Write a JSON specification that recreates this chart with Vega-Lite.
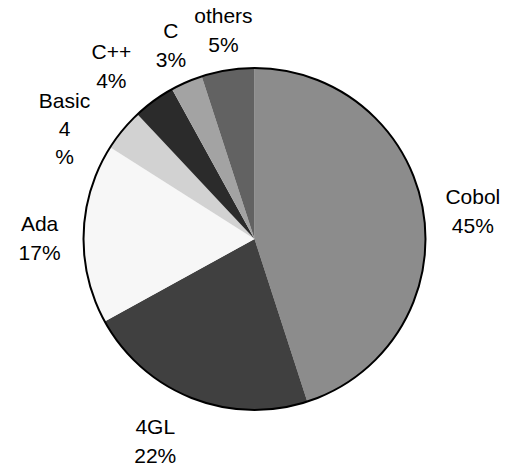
{
  "$schema": "https://vega.github.io/schema/vega-lite/v6.json",
  "width": 509,
  "height": 458,
  "autosize": "none",
  "padding": {"left": 0, "right": 0, "top": 10, "bottom": 0},
  "background": "white",
  "datasets": {
    "langs": [
      {"idx": 1, "lang": "Cobol", "pct": 45, "label": "Cobol\n45%"},
      {"idx": 2, "lang": "4GL", "pct": 22, "label": "4GL\n22%"},
      {"idx": 3, "lang": "Ada", "pct": 17, "label": "Ada\n17%"},
      {"idx": 4, "lang": "Basic", "pct": 4, "label": "Basic\n4\n%"},
      {"idx": 5, "lang": "C++", "pct": 4, "label": "C++\n4%"},
      {"idx": 6, "lang": "C", "pct": 3, "label": "C\n3%"},
      {"idx": 7, "lang": "others", "pct": 5, "label": "others\n5%"}
    ],
    "outline": [{"total": 100}]
  },
  "layer": [
    {
      "data": {"name": "langs"},
      "mark": {"type": "arc", "outerRadius": 171, "strokeWidth": 0},
      "encoding": {
        "theta": {"field": "pct", "type": "quantitative", "stack": true},
        "order": {"field": "idx", "type": "quantitative", "sort": "ascending"},
        "color": {
          "field": "lang",
          "type": "nominal",
          "scale": {
            "domain": ["Cobol", "4GL", "Ada", "Basic", "C++", "C", "others"],
            "range": ["#8c8c8c", "#404040", "#f7f7f7", "#d2d2d2", "#2b2b2b", "#a3a3a3", "#626262"]
          },
          "legend": null
        }
      }
    },
    {
      "data": {"name": "outline"},
      "mark": {"type": "arc", "outerRadius": 171, "fillOpacity": 0, "stroke": "black", "strokeWidth": 2},
      "encoding": {
        "theta": {"field": "total", "type": "quantitative"}
      }
    },
    {
      "data": {"name": "langs"},
      "mark": {"type": "text", "radius": 218, "font": "Liberation Sans", "fontSize": 21, "lineHeight": 29, "lineBreak": "\n", "align": "center", "baseline": "middle", "dx": 3, "dy": -7, "color": "black"},
      "encoding": {
        "theta": {"field": "pct", "type": "quantitative", "stack": true},
        "order": {"field": "idx", "type": "quantitative", "sort": "ascending"},
        "text": {"condition": {"test": "indexof(['Basic','4GL','C++'], datum.lang) >= 0", "value": ""}, "field": "label", "type": "nominal"}
      }
    },
    {
      "data": {"name": "langs"},
      "mark": {"type": "text", "radius": 218, "font": "Liberation Sans", "fontSize": 21, "lineHeight": 29, "lineBreak": "\n", "align": "center", "baseline": "middle", "dx": -19, "dy": -14, "color": "black"},
      "encoding": {
        "theta": {"field": "pct", "type": "quantitative", "stack": true},
        "order": {"field": "idx", "type": "quantitative", "sort": "ascending"},
        "text": {"condition": {"test": "datum.lang !== '4GL'", "value": ""}, "field": "label", "type": "nominal"}
      }
    },
    {
      "data": {"name": "langs"},
      "mark": {"type": "text", "radius": 218, "font": "Liberation Sans", "fontSize": 21, "lineHeight": 29, "lineBreak": "\n", "align": "center", "baseline": "middle", "dx": -15, "dy": -10, "color": "black"},
      "encoding": {
        "theta": {"field": "pct", "type": "quantitative", "stack": true},
        "order": {"field": "idx", "type": "quantitative", "sort": "ascending"},
        "text": {"condition": {"test": "datum.lang !== 'C++'", "value": ""}, "field": "label", "type": "nominal"}
      }
    },
    {
      "data": {"name": "langs"},
      "mark": {"type": "text", "radius": 218, "font": "Liberation Sans", "fontSize": 21, "lineHeight": 28, "lineBreak": "\n", "align": "center", "baseline": "middle", "dx": -22, "dy": 2, "color": "black"},
      "encoding": {
        "theta": {"field": "pct", "type": "quantitative", "stack": true},
        "order": {"field": "idx", "type": "quantitative", "sort": "ascending"},
        "text": {"condition": {"test": "datum.lang !== 'Basic'", "value": ""}, "field": "label", "type": "nominal"}
      }
    }
  ],
  "resolve": {"scale": {"theta": "independent"}},
  "config": {"view": {"stroke": null}}
}
